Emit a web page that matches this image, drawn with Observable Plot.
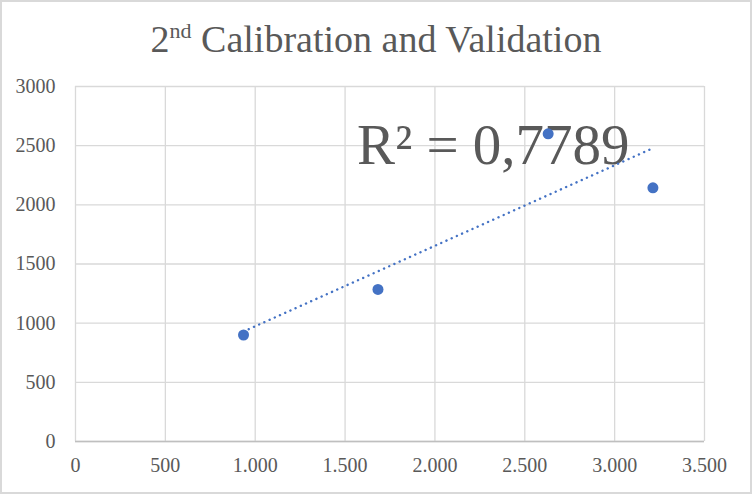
<!DOCTYPE html>
<html>
<head>
<meta charset="utf-8">
<script src="https://cdn.jsdelivr.net/npm/d3@7"></script>
<script src="https://cdn.jsdelivr.net/npm/@observablehq/plot@0.6"></script>
<style>
  html, body { margin: 0; padding: 0; background: #fff; }
  body { width: 752px; height: 494px; position: relative; overflow: hidden; }
  #frame { position: absolute; left: 0; top: 0; width: 752px; height: 494px; box-sizing: border-box; border: 2px solid #d9d9d9; pointer-events: none; }
  #title { position: absolute; left: 0; top: 21px; width: 752px; text-align: center; font-family: "Liberation Serif", "Times New Roman", serif; font-size: 38px; line-height: 37px; color: #595959; white-space: nowrap; }
  #title .sup { font-size: 22px; position: relative; top: -14px; }
  #chart { position: absolute; left: 0; top: 70px; }
</style>
</head>
<body>
<div id="title">2<span class="sup">nd</span> Calibration and Validation</div>
<div id="chart"></div>
<div id="frame"></div>
<script>
// Measured pairs
const xValues = [935, 1683, 2630, 3213];
const yValues = [900, 1285, 2600, 2144];

// Axis ticks
const xTicks = [0, 500, 1000, 1500, 2000, 2500, 3000, 3500];
const yTicks = [0, 500, 1000, 1500, 2000, 2500, 3000];

// Coefficient of determination shown with the trendline
const rSquared = 0.7789;
const rLabelAt = [{x: 1567, y: 2345}];

const points = xValues.map((x, i) => ({x, y: yValues[i]}));

const deLocale = d3.formatLocale({decimal: ",", thousands: ".", grouping: [3], currency: ["", ""]});
const fmtX = deLocale.format(",");
const fmtR = deLocale.format(",.4f");

const blue = "#4472C4";
const grid = "#d9d9d9";
const ink = "#595959";
const serif = "Liberation Serif";

const chart = Plot.plot({
  width: 752,
  height: 424,
  marginLeft: 75,
  marginRight: 48,
  marginTop: 16,
  marginBottom: 53,
  style: {fontFamily: serif, fontSize: "20px", color: ink, background: "transparent"},
  x: {domain: [0, 3500]},
  y: {domain: [0, 3000]},
  marks: [
    Plot.gridX(xTicks, {stroke: grid, strokeOpacity: 1, strokeWidth: 1.3}),
    Plot.gridY(yTicks, {stroke: grid, strokeOpacity: 1, strokeWidth: 1.3}),
    Plot.ruleY([0], {stroke: "#bfbfbf", strokeWidth: 1.3}),
    Plot.axisX(xTicks, {tickSize: 0, tickPadding: 16, tickFormat: fmtX, fill: ink, label: null}),
    Plot.axisY(yTicks, {tickSize: 0, tickPadding: 20, tickFormat: d => String(d), fill: ink, label: null}),
    Plot.text(rLabelAt, {
      x: "x", y: "y",
      text: () => `R² = ${fmtR(rSquared)}`,
      textAnchor: "start", lineAnchor: "bottom",
      fontFamily: serif, fontSize: 57, fill: ink
    }),
    Plot.linearRegressionY(points, {
      x: "x", y: "y", ci: 0,
      stroke: blue, strokeWidth: 2.4,
      strokeDasharray: "0.1 5.6", strokeLinecap: "round"
    }),
    Plot.dot(points, {x: "x", y: "y", r: 5.5, fill: blue, stroke: "none"})
  ]
});
document.getElementById("chart").appendChild(chart);
</script>
</body>
</html>
